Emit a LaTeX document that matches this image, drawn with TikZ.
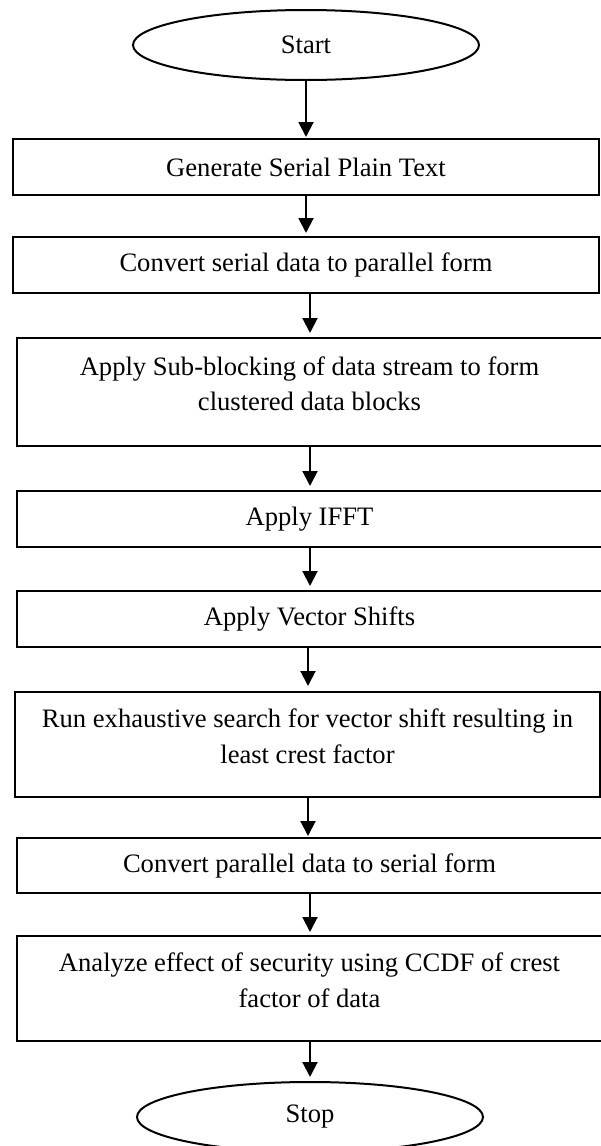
\documentclass[tikz,border=0pt]{standalone}
\usepackage{fontspec}
\setmainfont{Liberation Serif}
\usetikzlibrary{arrows.meta,shapes.geometric}
\begin{document}
\begin{tikzpicture}[x=1pt,y=-1pt,
  every node/.style={font=\fontsize{26.6}{35.5}\selectfont},
  box/.style={draw, line width=2pt, rectangle, inner sep=0pt, align=center,
              minimum height=56pt},
  wide/.style={minimum width=586pt},
  term/.style={draw, line width=2pt, ellipse, inner sep=0pt,
               minimum width=346pt, minimum height=70pt},
  flow/.style={line width=2pt, -{Triangle[width=15pt,length=15pt]}}
]
\useasboundingbox (0,0) rectangle (601,1146);

% terminals and process boxes
\node[term] (start) at (306,45) {Start};
\node[box, wide] (b1) at (306,167) {Generate Serial Plain Text};
\node[box, wide] (b2) at (306,265) {Convert serial data to parallel form};
\node[box, minimum width=585pt, minimum height=108pt] (b3) at (309.5,392)
  {Apply Sub-blocking of data stream to form\\clustered data blocks\\[-18.5pt]\mbox{}};
\node[box, minimum width=585pt] (b4) at (309.5,519) {Apply IFFT};
\node[box, minimum width=585pt] (b5) at (309.5,619) {Apply Vector Shifts};
\node[box, minimum width=585pt, minimum height=105pt] (b6) at (307.5,744.5)
  {Run exhaustive search for vector shift resulting in\\least crest factor\\[-18.5pt]\mbox{}};
\node[box, minimum width=585pt, minimum height=55pt] (b7) at (309.5,865.5) {Convert parallel data to serial form};
\node[box, minimum width=585pt, minimum height=105pt] (b8) at (309.5,988.5)
  {Analyze effect of security using CCDF of crest\\factor of data\\[-18.5pt]\mbox{}};
\node[term] (stop) at (310,1117) {Stop};

% connectors
\draw[flow, shorten >=1pt] (start.south) -- (b1.north);
\draw[flow, shorten >=3pt] (b1.south) -- (b2.north);
\draw[flow, shorten >=4pt] ([xshift=4pt]b2.south) -- ([xshift=0.5pt]b3.north);
\draw[flow, shorten >=4pt] ([xshift=0.5pt]b3.south) -- ([xshift=0.5pt]b4.north);
\draw[flow, shorten >=4pt] ([xshift=0.5pt]b4.south) -- ([xshift=0.5pt]b5.north);
\draw[flow, shorten >=5pt] ([xshift=-1.5pt]b5.south) -- ([xshift=0.5pt]b6.north);
\draw[flow, shorten >=1pt] ([xshift=0.5pt]b6.south) -- ([xshift=-1.5pt]b7.north);
\draw[flow, shorten >=3pt] ([xshift=0.5pt]b7.south) -- ([xshift=0.5pt]b8.north);
\draw[flow, shorten >=4pt] ([xshift=0.5pt]b8.south) -- (stop.north);
\end{tikzpicture}
\end{document}
